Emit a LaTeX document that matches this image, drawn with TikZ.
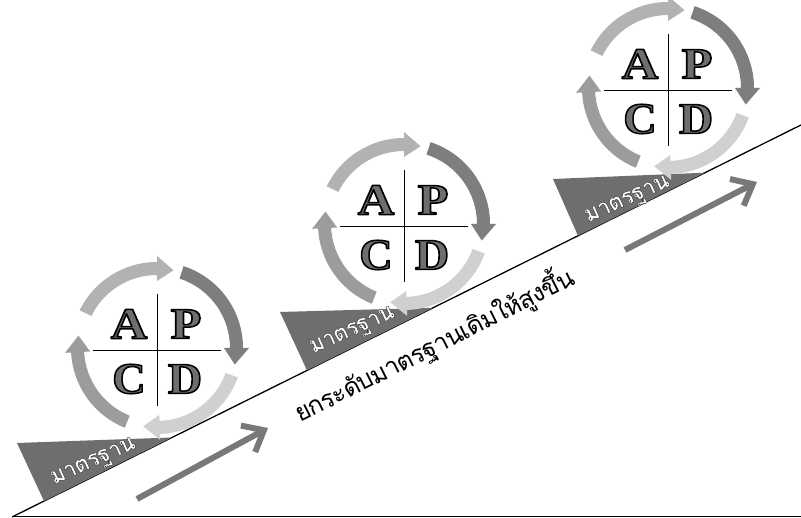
\documentclass[tikz,border=0pt]{standalone}
\usepackage{fontspec}
\usepackage{graphicx}
\usetikzlibrary{arrows.meta,calc}
\newfontfamily\thaifont[Script=Thai,LetterSpace=-3]{Loma}
\newfontfamily\thailabel[Script=Thai,LetterSpace=-4]{Loma}
\newfontfamily\lserif{Liberation Serif}
\definecolor{arcA}{HTML}{B2B2B2}
\definecolor{arcB}{HTML}{7E7E7E}
\definecolor{arcC}{HTML}{D0D0D0}
\definecolor{arcD}{HTML}{9C9C9C}
\definecolor{trigray}{HTML}{6E6E6E}
\definecolor{letgray}{HTML}{6E6E6E}
\definecolor{arrgray}{HTML}{787878}
% outlined text via text render mode 2 (fill + stroke)
\newcommand\outl[4]{{\color{#2}\special{pdf:literal direct #1 G #3 w 1 j 2 Tr}#4\special{pdf:literal direct 0 Tr}}}
\newcommand\arcarr[3]{%
 \pgfmathsetmacro\hb{#2+12}%
 \fill[#3] (#1:86) arc[start angle=#1, end angle=\hb, radius=86] -- (\hb:92) -- (#2:79.5) -- (\hb:67) -- (\hb:73) arc[start angle=\hb, end angle=#1, radius=73] -- cycle;}
\tikzset{
 letter/.style={inner sep=0pt, font=\fontsize{44}{44}\lserif\bfseries},
 stdlabel/.style={inner sep=0pt, font=\fontsize{23}{26}\thailabel\bfseries},
 crossline/.style={line width=0.8pt},
 mainline/.style={line width=1.3pt},
 bigarrow/.style={line width=6pt, draw=arrgray, -{Straight Barb[length=18pt,width=30pt]}},
 wedge/.style={fill=trigray}
}
\newcommand\pdca[2]{%
 \begin{scope}[shift={#2}]
 \arcarr{154}{78}{arcA}
 \arcarr{72}{-12}{arcB}
 \arcarr{-20}{-100}{arcC}
 \arcarr{-112}{-189}{arcD}
 \coordinate (#1l) at (-64,-2);
 \coordinate (#1r) at (64,-2);
 \coordinate (#1t) at (0,54);
 \coordinate (#1b) at (0,-58);
 \draw[crossline] (#1l) -- (#1r);
 \draw[crossline] (#1t) -- (#1b);
 \node[letter] (#1A) at (-28,24) {\outl{0}{letgray}{1.5}{\scalebox{1.15}[1]{A}}};
 \node[letter] (#1P) at (29,24) {\outl{0}{letgray}{1.5}{\scalebox{1.15}[1]{P}}};
 \node[letter] (#1C) at (-28,-31) {\outl{0}{letgray}{1.5}{\scalebox{1.05}[1]{C}}};
 \node[letter] (#1D) at (28,-31) {\outl{0}{letgray}{1.5}{\scalebox{1.08}[1]{D}}};
 \end{scope}}
\begin{document}
\begin{tikzpicture}[x=1pt,y=1pt]
\fill[white] (0,0) rectangle (801,518);
\useasboundingbox (0,0) rectangle (801,518);
% base lines
\coordinate (bl0) at (12,1.5);
\coordinate (bl1) at (801,1.5);
\draw[line width=1pt] (bl0) -- (bl1);
\coordinate (s0) at (12,1);
\coordinate (s1) at (801,393);
\draw[mainline] (s0) -- (s1);
% wedges
\fill[wedge] (17,75) -- (172,80.5) -- (44,16.9) -- cycle;
\fill[wedge] (280,206) -- (433,210.2) -- (307,147.6) -- cycle;
\fill[wedge] (553,339) -- (705,345.3) -- (578,282.2) -- cycle;
\node[stdlabel, rotate=24] (std1) at (94,55) {\outl{0.2}{white}{0.4}{มาตรฐาน}};
\node[stdlabel, rotate=24] (std2) at (353,186) {\outl{0.2}{white}{0.4}{มาตรฐาน}};
\node[stdlabel, rotate=24] (std3) at (628,317) {\outl{0.2}{white}{0.4}{มาตรฐาน}};
% PDCA wheels
\pdca{w1}{(157,170)}
\pdca{w2}{(404,294)}
\pdca{w3}{(668,430)}
% big arrows
\coordinate (a1s) at (137,19);
\coordinate (a1e) at (268,90);
\draw[bigarrow] (a1s) -- (a1e);
\coordinate (a2s) at (625,268);
\coordinate (a2e) at (757,336);
\draw[bigarrow] (a2s) -- (a2e);
% caption
\node[anchor=base west, rotate=26.7, inner sep=0pt, font=\fontsize{25}{30}\thaifont] (lift) at (300,95) {ยกระดับมาตรฐานเดิมให้สูงขึ้น};
\end{tikzpicture}
\end{document}
